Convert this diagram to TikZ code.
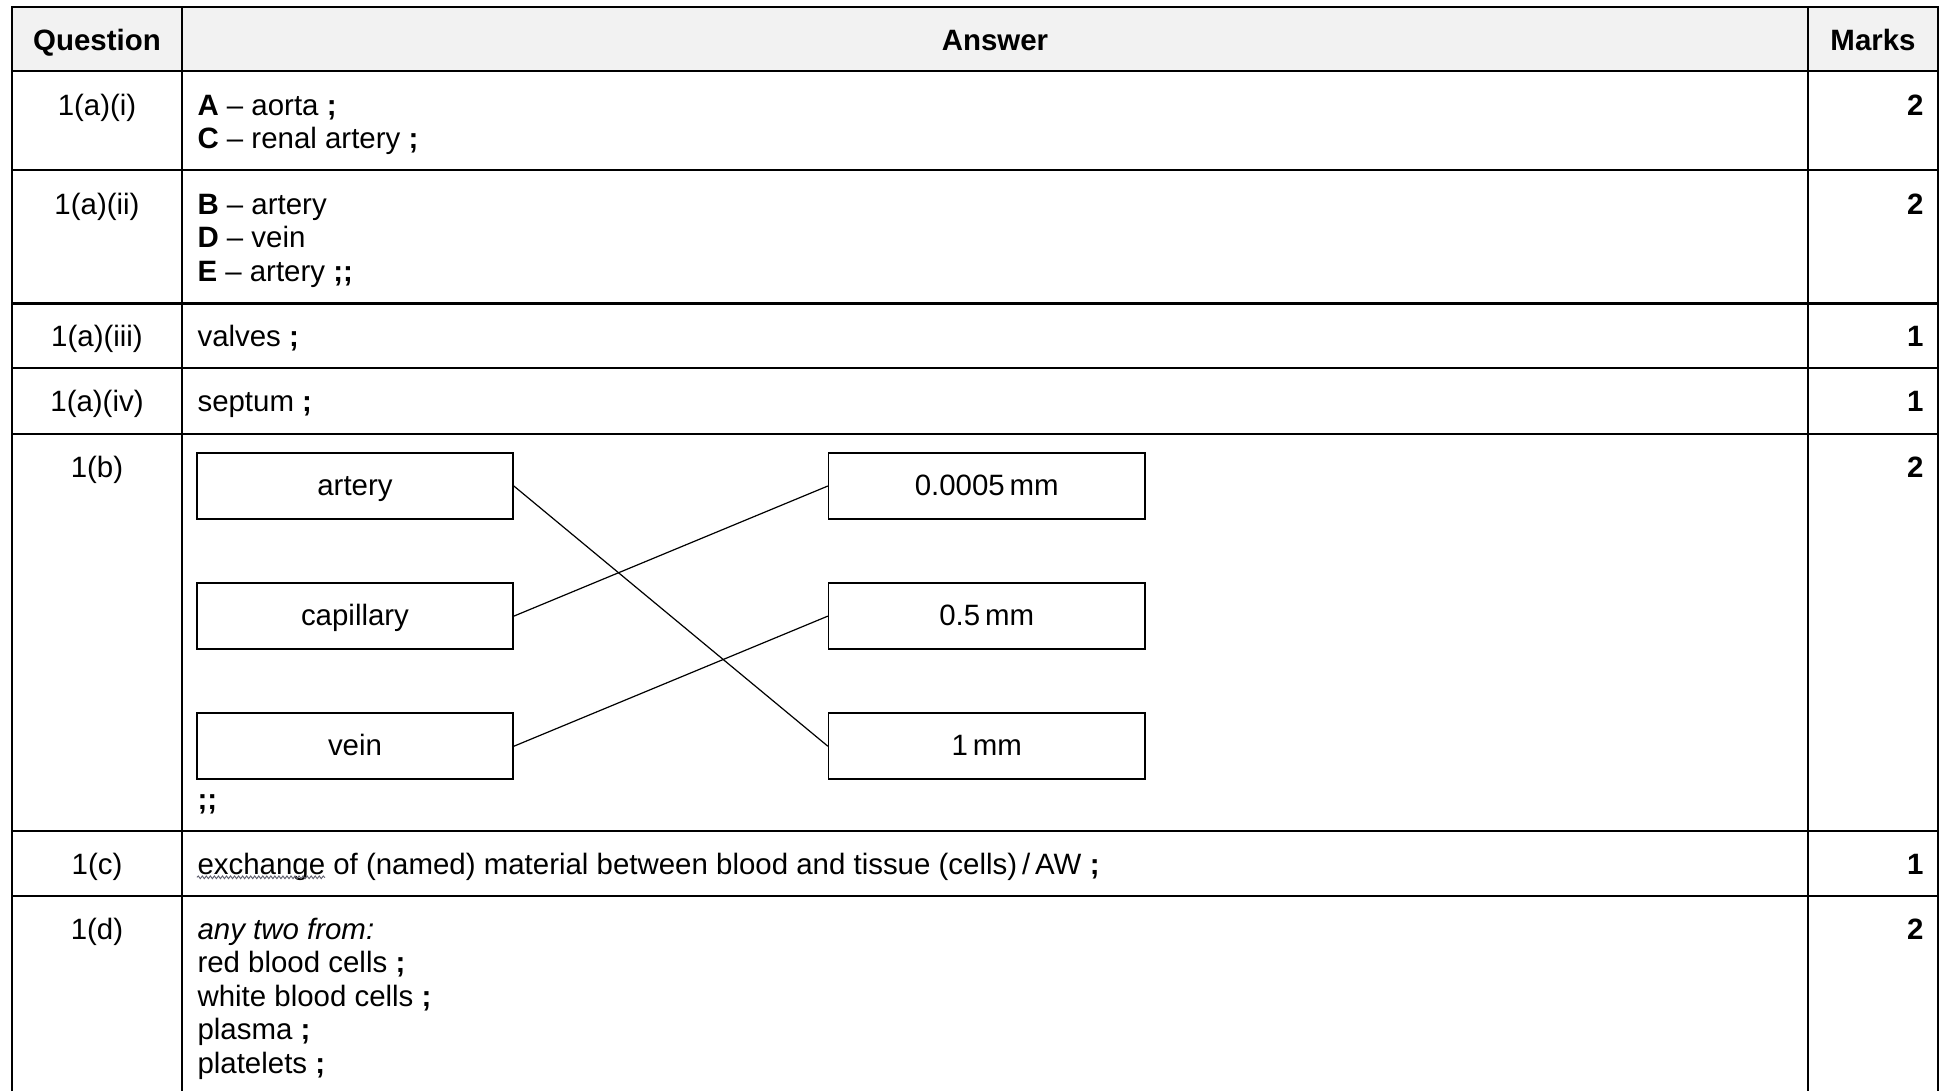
\documentclass[tikz,border=0pt]{standalone}
\usepackage{fontspec}
\setmainfont{Liberation Sans}
\usepackage{tikz}
\usetikzlibrary{positioning, calc, decorations.pathmorphing}
\definecolor{headgray}{RGB}{242,242,242}
\definecolor{squig}{RGB}{95,95,110}
\newcommand{\ansfont}{\fontsize{10.95pt}{12.4pt}\selectfont}

\begin{document}
\begin{tikzpicture}[x=0.372pt, y=-0.372pt, node distance=48.4pt, on grid,
    rule/.style={line width=0.75pt},
    txt/.style={inner sep=0pt, anchor=base west, yshift=-0.4pt, font=\ansfont},
    qtxt/.style={inner sep=0pt, anchor=base, yshift=-0.4pt, font=\ansfont},
    head/.style={inner sep=0pt, anchor=base, font=\ansfont\bfseries},
    mtxt/.style={inner sep=0pt, anchor=base east, yshift=-0.4pt, font=\ansfont\bfseries},
    box/.style={draw, line width=0.6pt, inner sep=0pt, font=\ansfont,
        minimum width=117.6pt, minimum height=24.5pt, text height=7.9pt, text depth=1.2pt},
    link/.style={line width=0.45pt},
    squiggle/.style={draw=squig, line width=0.35pt, decorate,
        decoration={snake, amplitude=0.5pt, segment length=1.5pt}}]

    \useasboundingbox (0,0) rectangle (1942,1091);
    \fill[headgray] (12,7) rectangle (1938,71);
    \draw[rule] (12,1091) -- (12,7) -- (1938,7) -- (1938,1091);
    \foreach \y in {71,170,303.5,368,434,831,896}
        \draw[rule] (12,\y) -- (1938,\y);
    \foreach \x in {182,1808}
        \draw[rule] (\x,7) -- (\x,1091);

    \node[head] (hq) at (97,50) {Question};
    \node[head] (ha) at (995,50) {Answer};
    \node[head] (hm) at (1873,50) {Marks};

    \node[qtxt] (q1) at (97,114) {1(a)(i)};
    \node[txt] (a1a) at (197,114) {\textbf{A} – aorta \textbf{;}};
    \node[txt] (a1b) at (197,147.5) {\textbf{C} – renal artery \textbf{;}};
    \node[mtxt] (m1) at (1924,114) {2};

    \node[qtxt] (q2) at (97,213) {1(a)(ii)};
    \node[txt] (a2a) at (197,213) {\textbf{B} – artery};
    \node[txt] (a2b) at (197,246.5) {\textbf{D} – vein};
    \node[txt] (a2c) at (197,280) {\textbf{E} – artery \textbf{;;}};
    \node[mtxt] (m2) at (1924,213) {2};

    \node[qtxt] (q3) at (97,345.5) {1(a)(iii)};
    \node[txt] (a3) at (197,345.5) {valves \textbf{;}};
    \node[mtxt] (m3) at (1924,345.5) {1};

    \node[qtxt] (q4) at (97,410) {1(a)(iv)};
    \node[txt] (a4) at (197,410) {septum \textbf{;}};
    \node[mtxt] (m4) at (1924,410) {1};

    \node[qtxt] (q5) at (97,476) {1(b)};
    \node[box] (artery) at (355,486) {artery};
    \node[box] (capillary) [below=of artery] {capillary};
    \node[box] (vein) [below=of capillary] {vein};
    \node[box] (tiny) [right=235pt of artery] {0.0005\,mm};
    \node[box] (half) [right=235pt of capillary] {0.5\,mm};
    \node[box] (onemm) [right=235pt of vein] {1\,mm};
    \node[txt] (a5) at (197,808) {\textbf{;;}};
    \node[mtxt] (m5) at (1924,476) {2};

    \path[link] (artery.east) edge (onemm.west)
        (capillary.east) edge (tiny.west)
        (vein.east) edge (half.west);

    \node[qtxt] (q6) at (97,873) {1(c)};
    \node[txt] (a6) at (197,873) {exchange of (named) material between blood and tissue (cells)\,/\,AW \textbf{;}};
    \draw[squiggle] ([yshift=-1.2pt]a6.base west) -- ++(128,0);
    \node[mtxt] (m6) at (1924,873) {1};

    \node[qtxt] (q7) at (97,938) {1(d)};
    \node[txt] (a7a) at (197,938) {\itshape any two from:};
    \node[txt] (a7b) at (197,971.5) {red blood cells \textbf{;}};
    \node[txt] (a7c) at (197,1005) {white blood cells \textbf{;}};
    \node[txt] (a7d) at (197,1038.5) {plasma \textbf{;}};
    \node[txt] (a7e) at (197,1072) {platelets \textbf{;}};
    \node[mtxt] (m7) at (1924,938) {2};
\end{tikzpicture}
\end{document}
